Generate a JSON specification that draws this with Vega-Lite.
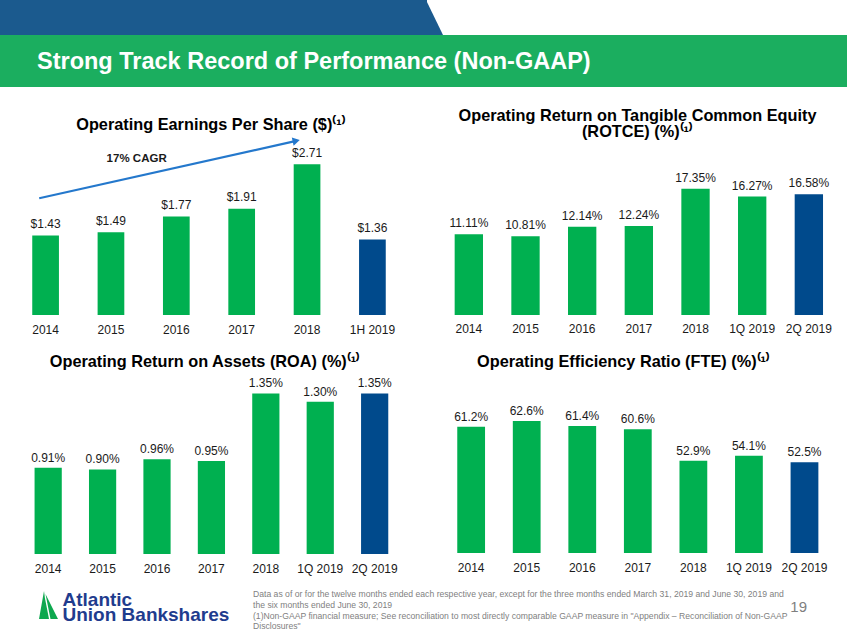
{
  "$schema": "https://vega.github.io/schema/vega-lite/v6.json",
  "padding": 0,
  "background": "white",
  "columns": 2,
  "spacing": {"row": 40, "column": 8},
  "bounds": "flush",
  "align": "each",
  "resolve": {"scale": {"x": "independent", "y": "independent", "color": "independent"}},
  "config": {
    "view": {"stroke": null},
    "font": "Liberation Sans",
    "axis": {"labelFont": "Liberation Sans"},
    "title": {"font": "Liberation Sans", "fontSize": 16.3, "fontWeight": "bold", "color": "#000000", "anchor": "middle", "frame": "group", "baseline": "top"}
  },
  "concat": [
    {
      "width": 418, "height": 88,
      "data": {"values": [{}]},
      "layer": [
        {"mark": {"type": "rect", "color": "#1BAE5F"},
         "encoding": {
           "x": {"datum": 0, "type": "quantitative", "scale": {"domain": [0, 847], "range": [0, 847], "nice": false, "zero": false}, "axis": null},
           "x2": {"datum": 847},
           "y": {"datum": 35, "type": "quantitative", "scale": {"domain": [0, 88], "range": [0, 88], "nice": false, "zero": false}, "axis": null},
           "y2": {"datum": 87}}},
        {"mark": {"type": "rect", "color": "#1B5A8E"},
         "encoding": {
           "x": {"datum": 0, "type": "quantitative"}, "x2": {"datum": 427},
           "y": {"datum": 0, "type": "quantitative"}, "y2": {"datum": 35}}},
        {"mark": {"type": "point", "shape": "M-0.4857,-1L0.4857,1L-0.4857,1Z", "filled": true, "size": 1225, "color": "#1B5A8E", "opacity": 1, "strokeWidth": 0},
         "encoding": {"x": {"datum": 434.5, "type": "quantitative"}, "y": {"datum": 17.5, "type": "quantitative"}}},
        {"mark": {"type": "text", "text": "Strong Track Record of Performance (Non-GAAP)", "align": "left", "baseline": "alphabetic", "fontSize": 23.5, "fontWeight": "bold", "color": "#FFFFFF"},
         "encoding": {"x": {"datum": 37, "type": "quantitative"}, "y": {"datum": 69.3, "type": "quantitative"}}}
      ]
    },
    {
      "width": 421, "height": 88,
      "data": {"values": [{}]},
      "mark": {"type": "text", "text": ""},
      "encoding": {}
    },
    {
      "width": 418, "height": 187,
      "title": {"text": "Operating Earnings Per Share ($)⁽¹⁾", "offset": -5.3, "dx": 2},
      "data": {"values": [
        {"period": "2014", "eps": 1.43, "kind": "Historical"},
        {"period": "2015", "eps": 1.49, "kind": "Historical"},
        {"period": "2016", "eps": 1.77, "kind": "Historical"},
        {"period": "2017", "eps": 1.91, "kind": "Historical"},
        {"period": "2018", "eps": 2.71, "kind": "Historical"},
        {"period": "1H 2019", "eps": 1.36, "kind": "Current"}
      ]},
      "layer": [
        {"mark": {"type": "bar"},
         "encoding": {
           "x": {"field": "period", "type": "nominal", "sort": null,
                 "scale": {"domain": ["2014", "2015", "2016", "2017", "2018", "1H 2019"], "paddingInner": 0.5915, "paddingOuter": 0.4933, "align": 0.5},
                 "axis": {"title": null, "ticks": false, "domain": false, "grid": false, "labelAngle": 0, "labelFontSize": 12, "labelColor": "#1a1a1a", "labelPadding": 9}},
           "y": {"field": "eps", "type": "quantitative", "scale": {"domain": [0, 3.363], "nice": false}, "axis": null},
           "color": {"field": "kind", "type": "nominal", "scale": {"domain": ["Historical", "Current"], "range": ["#00B050", "#004A8C"]}, "legend": null}}},
        {"mark": {"type": "text", "baseline": "alphabetic", "dy": -7.5, "fontSize": 12, "color": "#1a1a1a"},
         "encoding": {
           "x": {"field": "period", "type": "nominal", "sort": null},
           "y": {"field": "eps", "type": "quantitative"},
           "text": {"field": "eps", "type": "quantitative", "format": "$.2f"}}},
        {"data": {"values": [{}]},
         "mark": {"type": "text", "text": "17% CAGR", "fontWeight": "bold", "fontSize": 11.5, "baseline": "alphabetic", "dx": 25.7, "color": "#1a1a1a"},
         "encoding": {"x": {"datum": "2015", "type": "nominal"}, "y": {"datum": 2.757, "type": "quantitative"}}},
        {"data": {"values": [{}]},
         "mark": {"type": "rule", "color": "#2478CC", "strokeWidth": 2.2, "xOffset": -6.4, "x2Offset": -10.8},
         "encoding": {"x": {"datum": "2014", "type": "nominal"}, "x2": {"datum": "2018"}, "y": {"datum": 2.099, "type": "quantitative"}, "y2": {"datum": 3.131}}},
        {"data": {"values": [{}]},
         "mark": {"type": "point", "shape": "triangle-right", "filled": true, "size": 70, "angle": 347.5, "color": "#2478CC", "opacity": 1, "xOffset": -10.8},
         "encoding": {"x": {"datum": "2018", "type": "nominal"}, "y": {"datum": 3.131, "type": "quantitative"}}}
      ]
    },
    {
      "width": 421, "height": 187,
      "title": {"text": ["Operating Return on Tangible Common Equity", "(ROTCE) (%)⁽¹⁾"], "lineHeight": 16.5, "offset": -12.6, "dx": 1},
      "data": {"values": [
        {"period": "2014", "rotce": 0.1111, "kind": "Historical"},
        {"period": "2015", "rotce": 0.1081, "kind": "Historical"},
        {"period": "2016", "rotce": 0.1214, "kind": "Historical"},
        {"period": "2017", "rotce": 0.1224, "kind": "Historical"},
        {"period": "2018", "rotce": 0.1735, "kind": "Historical"},
        {"period": "1Q 2019", "rotce": 0.1627, "kind": "Historical"},
        {"period": "2Q 2019", "rotce": 0.1658, "kind": "Current"}
      ]},
      "layer": [
        {"mark": {"type": "bar"},
         "encoding": {
           "x": {"field": "period", "type": "nominal", "sort": null,
                 "scale": {"domain": ["2014", "2015", "2016", "2017", "2018", "1Q 2019", "2Q 2019"], "paddingInner": 0.5, "paddingOuter": 0.4645, "align": 0.5445},
                 "axis": {"title": null, "ticks": false, "domain": false, "grid": false, "labelAngle": 0, "labelFontSize": 12, "labelColor": "#1a1a1a", "labelPadding": 8.5}},
           "y": {"field": "rotce", "type": "quantitative", "scale": {"domain": [0, 0.2569], "nice": false}, "axis": null},
           "color": {"field": "kind", "type": "nominal", "scale": {"domain": ["Historical", "Current"], "range": ["#00B050", "#004A8C"]}, "legend": null}}},
        {"mark": {"type": "text", "baseline": "alphabetic", "dy": -7, "fontSize": 12, "color": "#1a1a1a"},
         "encoding": {
           "x": {"field": "period", "type": "nominal", "sort": null},
           "y": {"field": "rotce", "type": "quantitative"},
           "text": {"field": "rotce", "type": "quantitative", "format": ".2%"}}}
      ]
    },
    {
      "width": 418, "height": 199,
      "title": {"text": "Operating Return on Assets (ROA) (%)⁽¹⁾", "offset": -15, "dx": -4},
      "data": {"values": [
        {"period": "2014", "roa": 0.0091, "kind": "Historical"},
        {"period": "2015", "roa": 0.0090, "kind": "Historical"},
        {"period": "2016", "roa": 0.0096, "kind": "Historical"},
        {"period": "2017", "roa": 0.0095, "kind": "Historical"},
        {"period": "2018", "roa": 0.0135, "kind": "Historical"},
        {"period": "1Q 2019", "roa": 0.0130, "kind": "Historical"},
        {"period": "2Q 2019", "roa": 0.0135, "kind": "Current"}
      ]},
      "layer": [
        {"mark": {"type": "bar"},
         "encoding": {
           "x": {"field": "period", "type": "nominal", "sort": null,
                 "scale": {"domain": ["2014", "2015", "2016", "2017", "2018", "1Q 2019", "2Q 2019"], "paddingInner": 0.5, "paddingOuter": 0.5908, "align": 0.5376},
                 "axis": {"title": null, "ticks": false, "domain": false, "grid": false, "labelAngle": 0, "labelFontSize": 12, "labelColor": "#1a1a1a", "labelPadding": 9}},
           "y": {"field": "roa", "type": "quantitative", "scale": {"domain": [0.004, 0.01577], "nice": false, "zero": false}, "axis": null},
           "y2": {"datum": 0.004},
           "color": {"field": "kind", "type": "nominal", "scale": {"domain": ["Historical", "Current"], "range": ["#00B050", "#004A8C"]}, "legend": null}}},
        {"mark": {"type": "text", "baseline": "alphabetic", "dy": -6, "fontSize": 12, "color": "#1a1a1a"},
         "encoding": {
           "x": {"field": "period", "type": "nominal", "sort": null},
           "y": {"field": "roa", "type": "quantitative"},
           "text": {"field": "roa", "type": "quantitative", "format": ".2%"}}}
      ]
    },
    {
      "width": 421, "height": 198,
      "title": {"text": "Operating Efficiency Ratio (FTE) (%)⁽¹⁾", "offset": -15, "dx": -13},
      "data": {"values": [
        {"period": "2014", "eff": 0.612, "kind": "Historical"},
        {"period": "2015", "eff": 0.626, "kind": "Historical"},
        {"period": "2016", "eff": 0.614, "kind": "Historical"},
        {"period": "2017", "eff": 0.606, "kind": "Historical"},
        {"period": "2018", "eff": 0.529, "kind": "Historical"},
        {"period": "1Q 2019", "eff": 0.541, "kind": "Historical"},
        {"period": "2Q 2019", "eff": 0.525, "kind": "Current"}
      ]},
      "layer": [
        {"mark": {"type": "bar"},
         "encoding": {
           "x": {"field": "period", "type": "nominal", "sort": null,
                 "scale": {"domain": ["2014", "2015", "2016", "2017", "2018", "1Q 2019", "2Q 2019"], "paddingInner": 0.5, "paddingOuter": 0.539, "align": 0.522},
                 "axis": {"title": null, "ticks": false, "domain": false, "grid": false, "labelAngle": 0, "labelFontSize": 12, "labelColor": "#1a1a1a", "labelPadding": 9}},
           "y": {"field": "eff", "type": "quantitative", "scale": {"domain": [0.3034, 0.7873], "nice": false, "zero": false}, "axis": null},
           "y2": {"datum": 0.3034},
           "color": {"field": "kind", "type": "nominal", "scale": {"domain": ["Historical", "Current"], "range": ["#00B050", "#004A8C"]}, "legend": null}}},
        {"mark": {"type": "text", "baseline": "alphabetic", "dy": -6, "fontSize": 12, "color": "#1a1a1a"},
         "encoding": {
           "x": {"field": "period", "type": "nominal", "sort": null},
           "y": {"field": "eff", "type": "quantitative"},
           "text": {"field": "eff", "type": "quantitative", "format": ".1%"}}}
      ]
    },
    {
      "width": 418, "height": 41,
      "data": {"values": [{}]},
      "layer": [
        {"mark": {"type": "point", "shape": "M-0.235,-0.824L-0.529,0.824L0.059,0.824L-0.182,-0.412ZM-0.147,-0.647L0.588,0.824L0.147,0.824Z", "filled": true, "size": 1156, "color": "#0DA84F", "opacity": 1, "strokeWidth": 0},
         "encoding": {
           "x": {"datum": 48, "type": "quantitative", "scale": {"domain": [0, 847], "range": [0, 847], "nice": false, "zero": false}, "axis": null},
           "y": {"datum": 605, "type": "quantitative", "scale": {"domain": [594, 635], "range": [0, 41], "nice": false, "zero": false}, "axis": null}}},
        {"mark": {"type": "text", "text": ["Atlantic", "Union Bankshares"], "align": "left", "baseline": "alphabetic", "fontSize": 19, "lineHeight": 15.5, "fontWeight": "bold", "color": "#1F3C8E"},
         "encoding": {"x": {"datum": 62.5, "type": "quantitative"}, "y": {"datum": 605.7, "type": "quantitative"}}},
        {"mark": {"type": "text", "text": ["Data as of or for the twelve months ended each respective year, except for the three months ended March 31, 2019 and June 30, 2019 and", "the six months ended June 30, 2019", "(1)Non-GAAP financial measure; See reconciliation to most directly comparable GAAP measure in \"Appendix – Reconciliation of Non-GAAP", "Disclosures\""], "align": "left", "baseline": "alphabetic", "fontSize": 8.65, "lineHeight": 10.7, "color": "#7F7F7F"},
         "encoding": {"x": {"datum": 253, "type": "quantitative"}, "y": {"datum": 597.2, "type": "quantitative"}}},
        {"mark": {"type": "text", "text": "19", "align": "center", "baseline": "alphabetic", "fontSize": 15, "color": "#7F7F7F"},
         "encoding": {"x": {"datum": 798.7, "type": "quantitative"}, "y": {"datum": 611.7, "type": "quantitative"}}}
      ]
    },
    {
      "width": 421, "height": 41,
      "data": {"values": [{}]},
      "mark": {"type": "text", "text": ""},
      "encoding": {}
    }
  ]
}
